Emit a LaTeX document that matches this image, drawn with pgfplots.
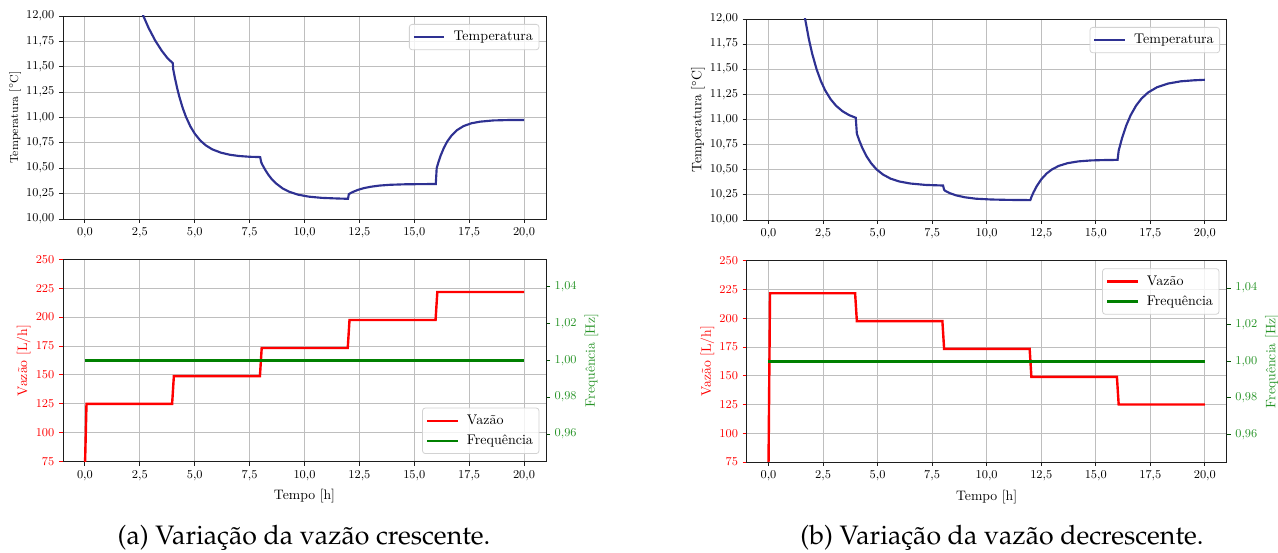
\documentclass[border=0pt]{standalone}
\usepackage[T1,TU]{fontenc}
\usepackage{pgfplots}
\pgfplotsset{compat=1.18}
\definecolor{tblue}{RGB}{46,49,146}
\definecolor{mgreen}{RGB}{0,128,0}
\definecolor{gridc}{RGB}{190,190,190}
\definecolor{legc}{RGB}{210,210,210}
\definecolor{spine}{RGB}{30,30,30}

\pgfplotsset{
  legstyle/.style={
    legend cell align=left,
    legend image code/.code={\draw[##1] (0pt,0pt) -- (23pt,0pt); \path (27pt,0pt);},
    legend style={draw=legc, rounded corners=2pt, fill=white, fill opacity=0.8,
      text opacity=1, draw opacity=1, line width=0.6pt,
      font=\fontsize{10.5}{12}\selectfont, inner xsep=2.5pt, inner ysep=3.2pt,
      row sep=2.3pt},
  },
  base/.style={
    scale only axis, anchor=south west,
    xmin=-1, xmax=21,
    xtick={0,2.5,5,7.5,10,12.5,15,17.5,20},
    xticklabel={\pgfmathprintnumber[fixed,fixed zerofill,precision=1,use comma]{\tick}},
    tick align=outside, major tick length=3pt, tick pos=left,
    grid=major, grid style={gridc, line width=0.7pt},
    axis line style={spine, line width=0.7pt},
    tick style={spine, line width=0.7pt},
    legstyle,
  },
  toptemp/.style={
    base,
    ymin=10, ymax=12,
    ytick={10,10.25,10.5,10.75,11,11.25,11.5,11.75,12},
    yticklabel={\pgfmathprintnumber[fixed,fixed zerofill,precision=2,use comma]{\tick}},
    ylabel={Temperatura [$^\circ$C]}, ylabel shift=-3pt,
    legend style={at={(1,1)}, anchor=north east, xshift=-5pt, yshift=-6pt},
  },
  botleft/.style={
    base,
    ymin=75, ymax=250,
    ytick={75,100,125,150,175,200,225,250},
    yticklabel style={red},
    ytick style={red, line width=0.7pt},
    ylabel={Vaz\~ao [L/h]}, ylabel style={red, font=\fontsize{10.3}{12}\selectfont},
    ylabel shift=-3pt,
    xlabel={Tempo [h]}, xlabel style={font=\fontsize{10.3}{12}\selectfont},
    ticklabel style={font=\fontsize{9.2}{11}\selectfont},
  },
  botright/.style={
    scale only axis, anchor=south west,
    xmin=-1, xmax=21, axis x line=none, axis y line*=right,
    ymin=0.945, ymax=1.055,
    ytick={0.96,0.98,1.00,1.02,1.04},
    yticklabel={\pgfmathprintnumber[fixed,fixed zerofill,precision=2,use comma]{\tick}},
    yticklabel style={mgreen!85!white, font=\fontsize{9.2}{11}\selectfont},
    tick align=outside, major tick length=3pt,
    ytick style={mgreen!60!black, line width=0.7pt},
    axis line style={spine, line width=0.7pt},
    ylabel={Frequ\^encia [Hz]}, ylabel style={mgreen!85!white, font=\fontsize{10.3}{12}\selectfont},
    ylabel shift=-1pt,
    legstyle,
  },
}

\begin{document}
\begin{tikzpicture}
\useasboundingbox (0,0) rectangle (958.5pt,414.75pt);

% ---------- (a) top ----------
\begin{axis}[toptemp, at={(47.25pt,250.5pt)}, width=362.25pt, height=152.25pt,
  ticklabel style={font=\fontsize{9}{10}\selectfont},
  ylabel style={font=\fontsize{8.7}{10}\selectfont}]
\addplot[tblue, line width=1.6pt] coordinates {
(2.0,12.44) (2.3,12.22) (2.66,12.00) (2.9,11.882) (3.2,11.758) (3.5,11.657)
(3.75,11.587) (4.0,11.535) (4.02,11.475) (4.10,11.387) (4.20,11.289) (4.30,11.204)
(4.45,11.095) (4.60,11.007) (4.80,10.913) (5.00,10.841) (5.25,10.774) (5.50,10.726)
(5.80,10.686) (6.20,10.653) (6.60,10.633) (7.00,10.621) (7.50,10.613) (7.98,10.610)
(8.03,10.558) (8.1,10.527) (8.2,10.488) (8.35,10.437) (8.5,10.395) (8.7,10.351)
(9.0,10.302) (9.3,10.269) (9.7,10.240) (10.2,10.220) (10.8,10.208) (11.5,10.202)
(11.98,10.199) (12.02,10.245) (12.1,10.255) (12.25,10.271) (12.45,10.288) (12.7,10.304)
(13.0,10.317) (13.4,10.329) (13.9,10.337) (14.6,10.342) (15.98,10.345)
(16.02,10.500) (16.1,10.560) (16.2,10.624) (16.35,10.702) (16.5,10.763) (16.7,10.823)
(16.95,10.876) (17.25,10.916) (17.6,10.943) (18.0,10.959) (18.6,10.971) (19.3,10.975)
(20.0,10.976)};
\addlegendentry{Temperatura}
\end{axis}

% ---------- (a) bottom ----------
\begin{axis}[botleft, at={(47.25pt,68.475pt)}, width=362.25pt, height=151.8pt]
\addplot[red, line width=1.8pt] coordinates {
(0,70) (0.07,125) (3.97,125) (4.05,149) (7.97,149) (8.05,173.3) (11.97,173.3)
(12.05,197.5) (15.97,197.5) (16.05,221.7) (20,221.7)};
\end{axis}
\begin{axis}[botright, at={(47.25pt,68.475pt)}, width=362.25pt, height=151.8pt,
  legend style={at={(1,0)}, anchor=south east, xshift=-5pt, yshift=5.8pt}]
\addlegendimage{red, line width=1.8pt}
\addlegendentry{Vaz\~ao}
\addplot[mgreen, line width=1.8pt] coordinates {(0,1.0) (20,1.0)};
\addlegendentry{Frequ\^encia}
\end{axis}

% ---------- (b) top ----------
\begin{axis}[toptemp, at={(560pt,249.75pt)}, width=360pt, height=150.75pt,
  ticklabel style={font=\fontsize{9.4}{11}\selectfont},
  ylabel style={font=\fontsize{10.3}{12}\selectfont}]
\addplot[tblue, line width=1.6pt] coordinates {
(1.3,12.632) (1.5,12.262) (1.68,12.0) (1.85,11.801) (2.0,11.657) (2.2,11.503)
(2.4,11.383) (2.6,11.289) (2.85,11.201) (3.1,11.136) (3.4,11.081) (3.7,11.043)
(4.0,11.017) (4.05,10.860) (4.15,10.797) (4.3,10.717) (4.5,10.632) (4.7,10.566)
(4.95,10.504) (5.25,10.452) (5.6,10.411) (6.0,10.383) (6.5,10.363) (7.2,10.349)
(8.0,10.343) (8.05,10.300) (8.1,10.290) (8.3,10.268) (8.6,10.245) (9.0,10.226)
(9.5,10.212) (10.2,10.204) (11.0,10.200) (12.0,10.198) (12.05,10.228) (12.15,10.277)
(12.3,10.339) (12.5,10.404) (12.75,10.463) (13.0,10.504) (13.3,10.538) (13.7,10.565)
(14.2,10.583) (14.8,10.593) (15.5,10.597) (16.0,10.598) (16.05,10.690) (16.2,10.811)
(16.4,10.942) (16.6,11.043) (16.85,11.139) (17.1,11.209) (17.4,11.269) (17.8,11.320)
(18.3,11.357) (18.9,11.380) (19.5,11.390) (20.0,11.395)};
\addlegendentry{Temperatura}
\end{axis}

% ---------- (b) bottom ----------
\begin{axis}[botleft, at={(560pt,68.25pt)}, width=360pt, height=150.975pt]
\addplot[red, line width=1.8pt] coordinates {
(0,70) (0.07,221.7) (3.97,221.7) (4.05,197.5) (7.97,197.5) (8.05,173.3) (11.97,173.3)
(12.05,149) (15.97,149) (16.05,125) (20,125)};
\end{axis}
\begin{axis}[botright, at={(560pt,68.25pt)}, width=360pt, height=150.975pt,
  legend style={at={(1,1)}, anchor=north east, xshift=-5.5pt, yshift=-5.7pt}]
\addlegendimage{red, line width=1.8pt}
\addlegendentry{Vaz\~ao}
\addplot[mgreen, line width=1.8pt] coordinates {(0,1.0) (20,1.0)};
\addlegendentry{Frequ\^encia}
\end{axis}

% ---------- captions ----------
\node[anchor=base, inner sep=0pt] at (228pt,6pt)
  {\fontencoding{T1}\fontfamily{ppl}\fontsize{20}{24}\selectfont (a) Varia\c{c}\~ao da vaz\~ao crescente.};
\node[anchor=base, inner sep=0pt] at (751.5pt,6pt)
  {\fontencoding{T1}\fontfamily{ppl}\fontsize{20}{24}\selectfont (b) Varia\c{c}\~ao da vaz\~ao decrescente.};
\end{tikzpicture}
\end{document}
